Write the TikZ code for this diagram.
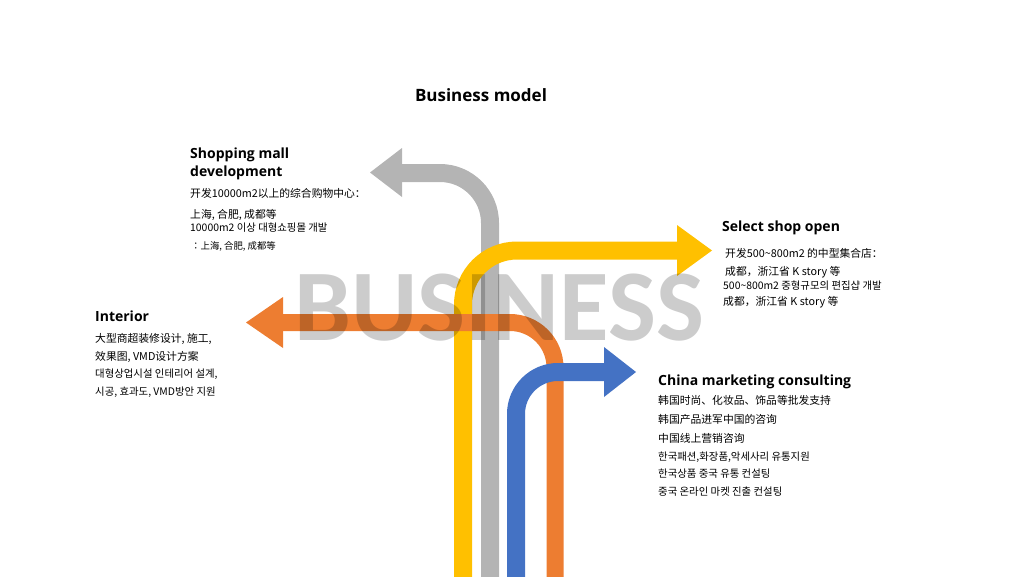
\documentclass[tikz,border=0pt]{standalone}
\usepackage{fontspec}
\setmainfont{Open Sans}
\newfontfamily\cfont{Carlito}
\newfontfamily\zh{Noto Sans CJK SC}
\newfontfamily\ko{Noto Sans CJK KR}
\definecolor{cgray}{HTML}{B4B4B4}
\definecolor{cyellow}{HTML}{FFC000}
\definecolor{corange}{HTML}{ED7D31}
\definecolor{cblue}{HTML}{4472C4}
\tikzset{
  band/.style={line width=18pt},
  head/.style={anchor=base west, inner sep=0pt, font=\bfseries\fontsize{14}{16}\selectfont},
  zhline/.style={anchor=base west, inner sep=0pt, font=\zh\fontsize{10.8}{12}\selectfont},
  koline/.style={anchor=base west, inner sep=0pt, font=\ko\fontsize{10.4}{12}\selectfont},
}
\begin{document}
\begin{tikzpicture}[x=1pt,y=-1pt]
\useasboundingbox (0,0) rectangle (1024,576);
% gray arrow
\draw[band, cgray, rounded corners=50pt] (490,577) -- (490,173) -- (401,173);
\fill[cgray] (402,148) -- (370,172.5) -- (402,197) -- cycle;
% yellow arrow
\draw[band, cyellow, rounded corners=54pt] (463,577) -- (463,250.5) -- (679,250.5);
\fill[cyellow] (677,225) -- (712,250.5) -- (677,276) -- cycle;
% orange arrow
\draw[line width=17pt, corange, rounded corners=45pt] (555,577) -- (555,322.5) -- (282,322.5);
\fill[corange] (283,297) -- (246,322.5) -- (283,348) -- cycle;
% blue arrow
\draw[band, cblue, rounded corners=42pt] (516,577) -- (516,372) -- (605,372);
\fill[cblue] (604,347) -- (636,372) -- (604,397) -- cycle;
% watermark
\node[anchor=base west, inner sep=0pt, text=black, text opacity=0.2,
  font=\cfont\bfseries\fontsize{101.5}{102}\selectfont] (bg) at (294,340) {BUSINESS};
% title
\node[anchor=base, inner sep=0pt, font=\bfseries\fontsize{17}{20}\selectfont] (title) at (481,101) {Business model};
% shopping mall
\node[head] (s1) at (190,158) {Shopping mall};
\node[head] (s2) at (190,176) {development};
\node[zhline] (s3) at (190,197) {开发10000m2以上的综合购物中心：};
\node[zhline] (s4) at (190,218) {上海, 合肥, 成都等};
\node[koline] (s5) at (190,231) {10000m2 이상 대형쇼핑몰 개발};
\node[koline, font=\ko\fontsize{9.4}{11}\selectfont] (s6) at (191,249) {：上海, 合肥, 成都等};
% select shop
\node[head] (p1) at (722,231) {Select shop open};
\node[zhline] (p2) at (725,257) {开发500\textasciitilde800m2 的中型集合店：};
\node[zhline] (p3) at (725,275) {成都，浙江省 K story 等};
\node[koline] (p4) at (723,289) {500\textasciitilde800m2 중형규모의 편집샵 개발};
\node[zhline] (p5) at (723,305) {成都，浙江省 K story 等};
% interior
\node[head] (i1) at (95,321) {Interior};
\node[zhline] (i2) at (95,342) {大型商超装修设计, 施工,};
\node[zhline] (i3) at (95,360) {效果图, VMD设计方案};
\node[koline] (i4) at (95,377) {대형상업시설 인테리어 설계,};
\node[koline] (i5) at (95,395) {시공, 효과도, VMD방안 지원};
% china
\node[head] (c1) at (658,385) {China marketing consulting};
\node[zhline] (c2) at (658,404) {韩国时尚、化妆品、饰品等批发支持};
\node[zhline] (c3) at (658,423) {韩国产品进军中国的咨询};
\node[zhline] (c4) at (658,442) {中国线上营销咨询};
\node[koline] (c5) at (658,460) {한국패션,화장품,악세사리 유통지원};
\node[koline] (c6) at (658,477) {한국상품 중국 유통 컨설팅};
\node[koline] (c7) at (658,495) {중국 온라인 마켓 진출 컨설팅};
\end{tikzpicture}
\end{document}
